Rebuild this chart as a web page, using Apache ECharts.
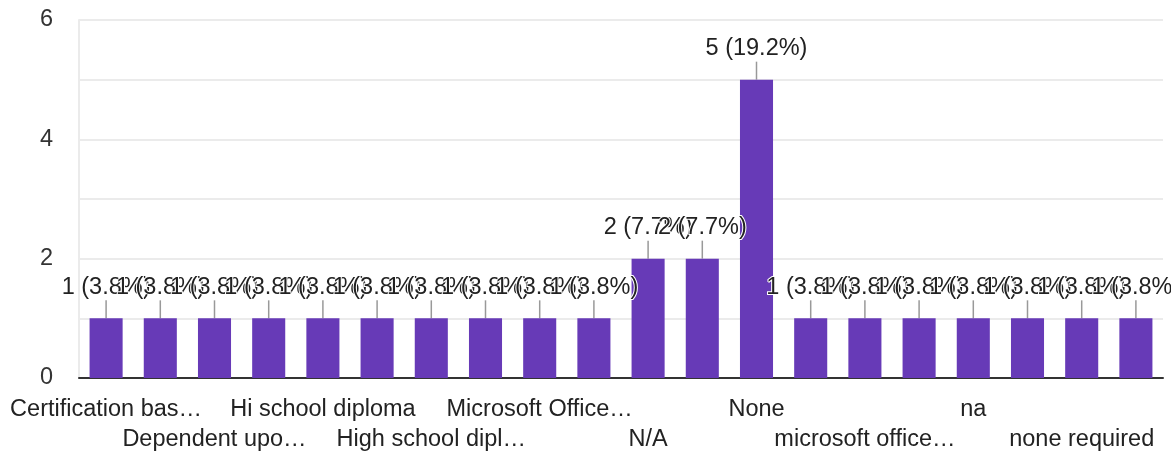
<!DOCTYPE html>
<html>
<head>
<meta charset="utf-8">
<script src="https://cdn.jsdelivr.net/npm/echarts@6/dist/echarts.min.js"></script>
<style>html,body{margin:0;padding:0;background:#fff}#c{width:1171px;height:452px}</style>
</head>
<body>
<div id="c"></div>
<script>
const categories = [
  'Certification bas…', 'College degree', 'Dependent upo…', 'GED',
  'Hi school diploma', 'High school', 'High school dipl…', 'Knowledge of comp…',
  'Microsoft Office…', 'Microsoft Word', 'N/A', 'NA',
  'None', 'computer skills', 'microsoft office…', 'n/a',
  'na', 'none', 'none required', 'typing'
];
const counts = [1, 1, 1, 1, 1, 1, 1, 1, 1, 1, 2, 2, 5, 1, 1, 1, 1, 1, 1, 1];
const yTicks = [0, 2, 4, 6];
const total = counts.reduce((a, b) => a + b, 0);

const chart = echarts.init(document.getElementById('c'));
const font = '"Liberation Sans", Arial, sans-serif';
const baseLabel = {
  interval: 1,
  showMinLabel: true,
  showMaxLabel: true,
  hideOverlap: false,
  fontSize: 23.5,
  color: '#222',
  fontFamily: font
};
chart.setOption({
  animation: false,
  grid: { left: 79, right: 8, top: 20, bottom: 74 },
  xAxis: [{
    type: 'category',
    data: categories,
    axisLine: { show: true, lineStyle: { color: '#333', width: 2 } },
    axisTick: { show: false },
    axisLabel: Object.assign({}, baseLabel, {
      margin: 20,
      formatter: (v, i) => (i % 4 === 0 ? v : '')
    })
  }, {
    type: 'category',
    data: categories,
    position: 'bottom',
    axisLine: { show: false },
    axisTick: { show: false },
    axisLabel: Object.assign({}, baseLabel, {
      margin: 50,
      formatter: (v, i) => (i % 4 === 2 ? v : '')
    })
  }],
  yAxis: {
    type: 'value',
    min: 0, max: 6, interval: 1,
    axisLine: { show: true, lineStyle: { color: '#ebebeb', width: 2 } },
    axisTick: { show: false },
    splitLine: { lineStyle: { color: '#ebebeb', width: 2 } },
    axisLabel: {
      fontSize: 23.5, color: '#333', fontFamily: font, margin: 26,
      formatter: v => (yTicks.indexOf(v) >= 0 ? String(v) : '')
    }
  },
  series: [{
    type: 'bar',
    data: counts,
    xAxisIndex: 0,
    barWidth: '61%',
    itemStyle: { color: '#673ab7' },
    label: {
      show: true,
      position: 'top',
      distance: 3,
      fontSize: 23.5,
      color: '#222',
      fontFamily: font,
      textBorderColor: '#fff',
      textBorderWidth: 2,
      formatter: p => p.value + ' (' + (p.value / total * 100).toFixed(1) + '%)'
    },
    labelLayout: { dy: -16 },
    labelLine: { show: true, lineStyle: { color: '#999', width: 1.5 } }
  }]
});
</script>
</body>
</html>
